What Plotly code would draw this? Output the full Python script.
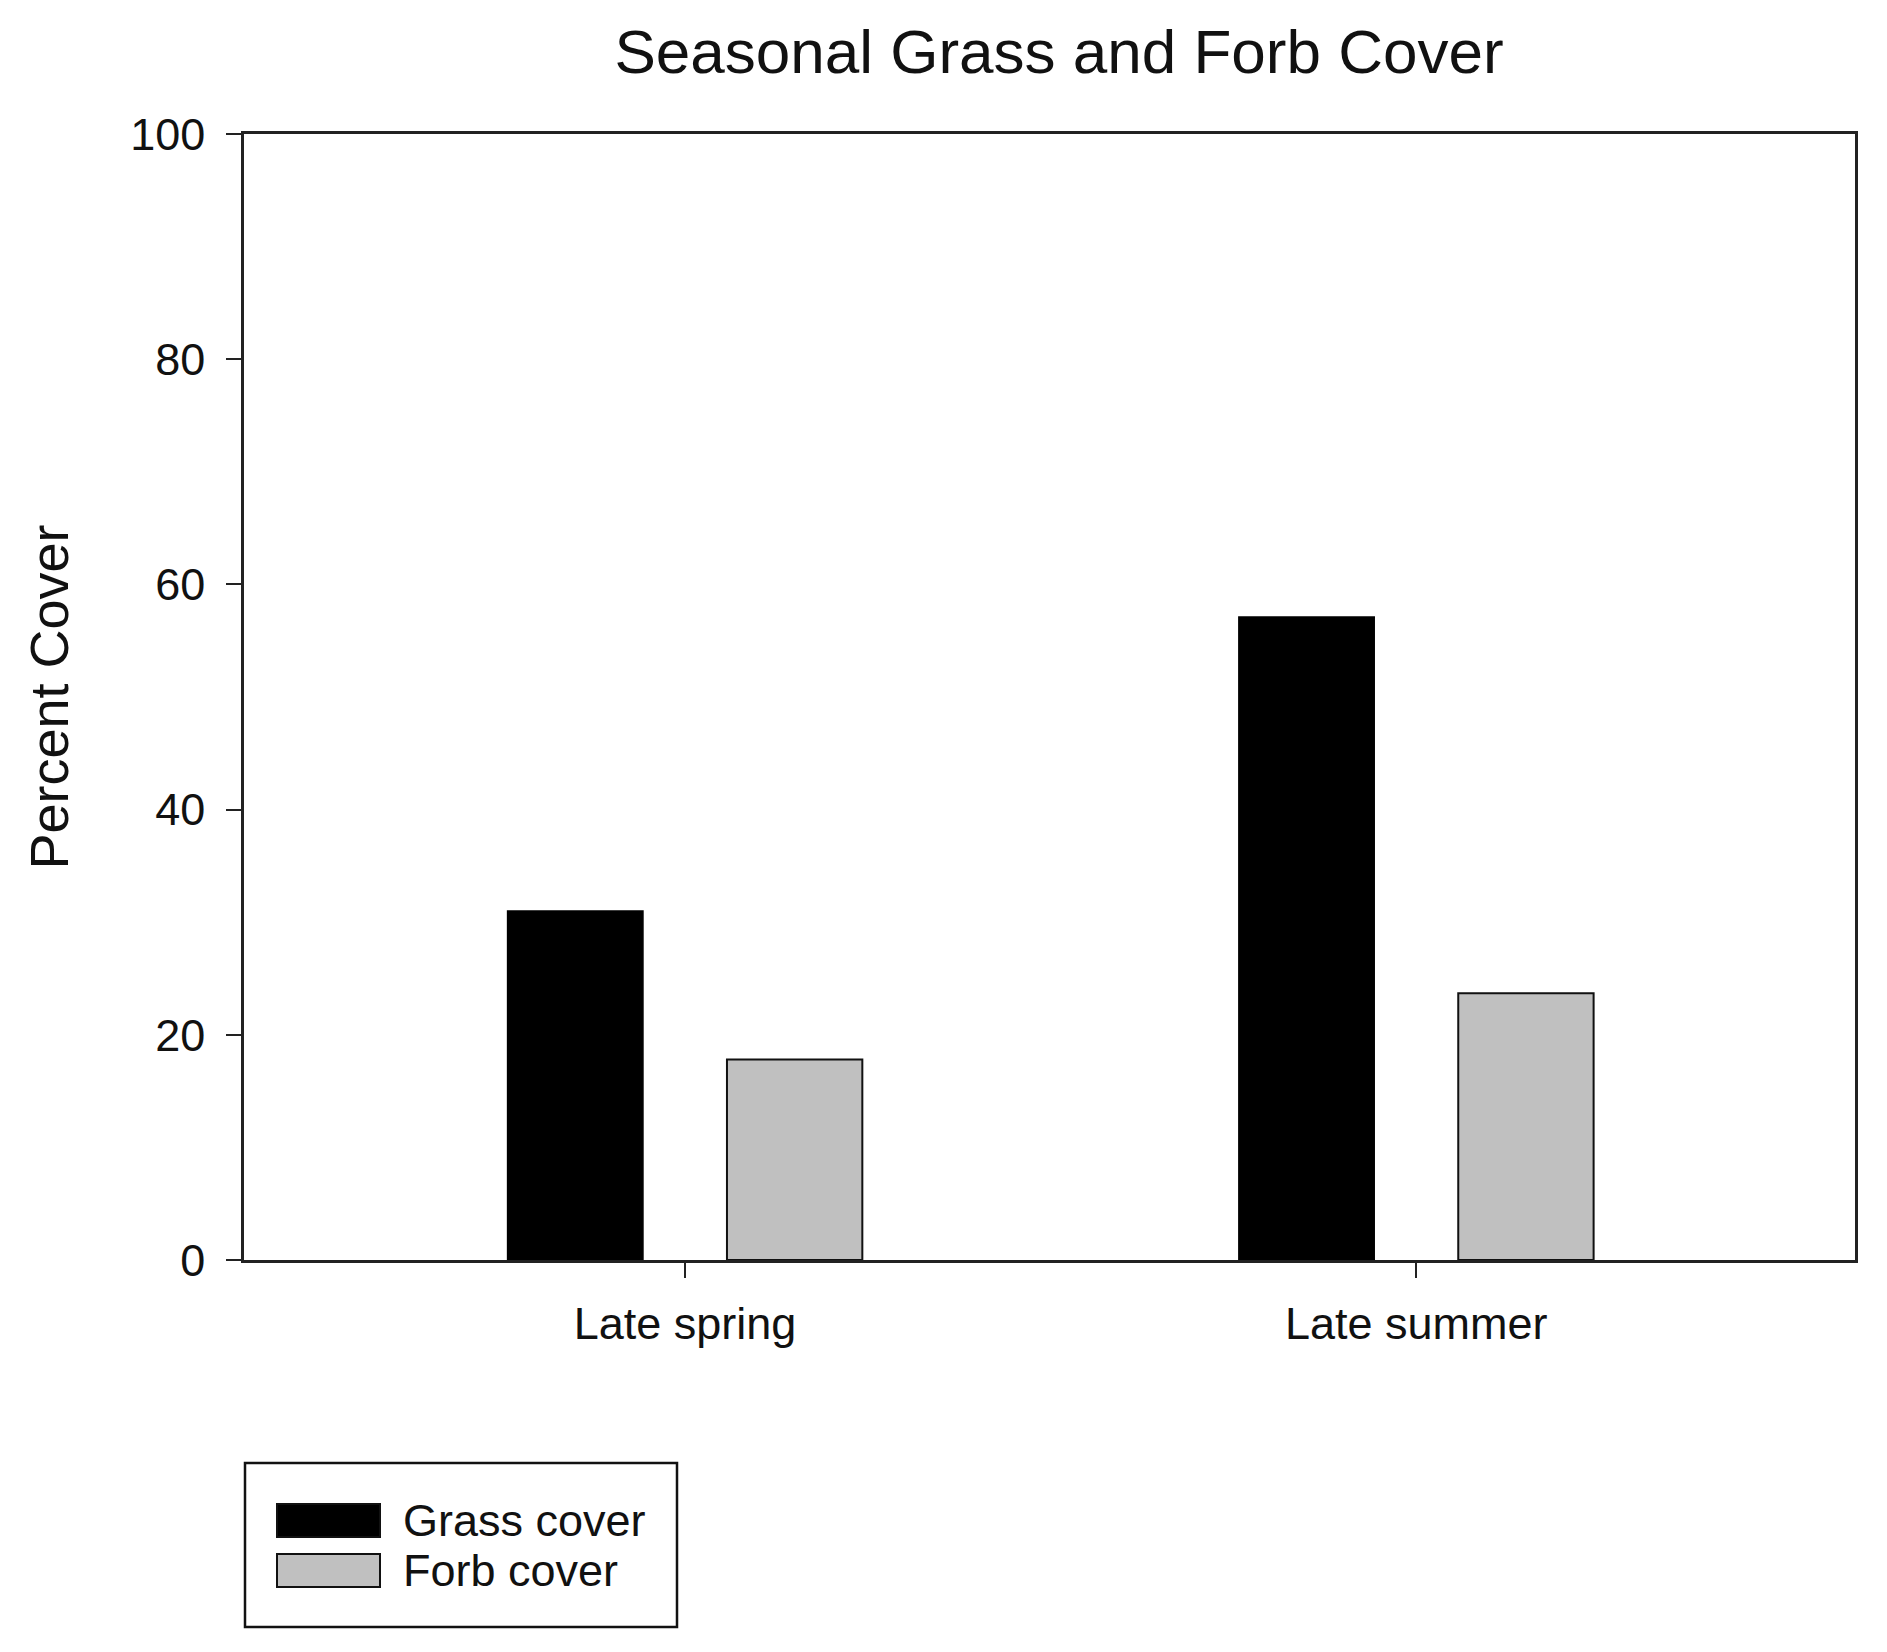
import plotly.graph_objects as go

# ---- data ----
categories = ["Late spring", "Late summer"]
series_names = ["Grass cover", "Forb cover"]
grass_cover = [31.0, 57.1]
forb_cover = [17.8, 23.7]
y_ticks = [0, 20, 40, 60, 80, 100]

FONT = "Liberation Sans, Arial, sans-serif"
OFF = 8  # default page body margin
W, H = 1887 - OFF, 1652 - OFF
# target page positions of plot area: x 244..1855, y 134..1260
L, T = 244 - OFF, 134 - OFF
R = W - (1855 - OFF)
B = H - (1260 - OFF)
PW, PH = W - L - R, H - T - B

def px2paper(x, y):
    # x, y in page pixels of the reference
    x -= OFF
    y -= OFF
    return (x - L) / PW, (H - B - y) / PH

fig = go.Figure()
fig.add_trace(go.Bar(x=categories, y=grass_cover, name=series_names[0],
                     marker=dict(color="#000000", line=dict(color="#000000", width=1.5)),
                     showlegend=False))
fig.add_trace(go.Bar(x=categories, y=forb_cover, name=series_names[1],
                     marker=dict(color="#c0c0c0", line=dict(color="#111111", width=2)),
                     showlegend=False))

fig.update_layout(
    width=W, height=H,
    margin=dict(l=L, r=R, t=T, b=B, autoexpand=False),
    paper_bgcolor="white", plot_bgcolor="white",
    barmode="group", bargap=0.4, bargroupgap=0.383,
    font=dict(family=FONT, size=45, color="#111111"),
    title=dict(text="Seasonal Grass and Forb Cover", x=(1059 - OFF) / W, xanchor="center",
               y=1 - (51 - OFF) / H, yanchor="middle", yref="container",
               font=dict(family=FONT, size=62, color="#111111")),
)
fig.update_xaxes(
    range=[-0.603, 1.6], showgrid=False, zeroline=False,
    showline=True, linecolor="#222222", linewidth=2.5, mirror=True,
    ticks="outside", ticklen=15, tickwidth=2, tickcolor="#222222",
    tickfont=dict(family=FONT, size=45, color="#111111"),
    ticklabelstandoff=7,
)
fig.update_yaxes(
    range=[0, 100], tickvals=y_ticks, showgrid=False, zeroline=False,
    showline=True, linecolor="#222222", linewidth=2.5, mirror=True,
    ticks="outside", ticklen=15, tickwidth=2, tickcolor="#222222",
    tickfont=dict(family=FONT, size=45, color="#111111"),
    ticklabelstandoff=12,
    title=dict(text="Percent Cover", font=dict(family=FONT, size=54, color="#111111"), standoff=45),
)

# ---- manual legend (box + swatches + labels) ----
x0, y1 = px2paper(245, 1463)
x1, y0 = px2paper(677, 1627)
fig.add_shape(type="rect", xref="paper", yref="paper", x0=x0, y0=y0, x1=x1, y1=y1,
              line=dict(color="#111111", width=2.5), fillcolor="rgba(0,0,0,0)")
swatch_fill = ["#000000", "#c0c0c0"]
rows_y = [(1504, 1537), (1554, 1587)]
for name, fill, (ya, yb) in zip(series_names, swatch_fill, rows_y):
    sx0, sy1 = px2paper(277, ya)
    sx1, sy0 = px2paper(380, yb)
    fig.add_shape(type="rect", xref="paper", yref="paper", x0=sx0, y0=sy0, x1=sx1, y1=sy1,
                  line=dict(color="#111111", width=2), fillcolor=fill)
    tx, ty = px2paper(401, (ya + yb) / 2)
    fig.add_annotation(text=name, xref="paper", yref="paper", x=tx, y=ty,
                       xanchor="left", yanchor="middle", showarrow=False,
                       font=dict(family=FONT, size=45, color="#111111"))

fig.write_html("out.html")
